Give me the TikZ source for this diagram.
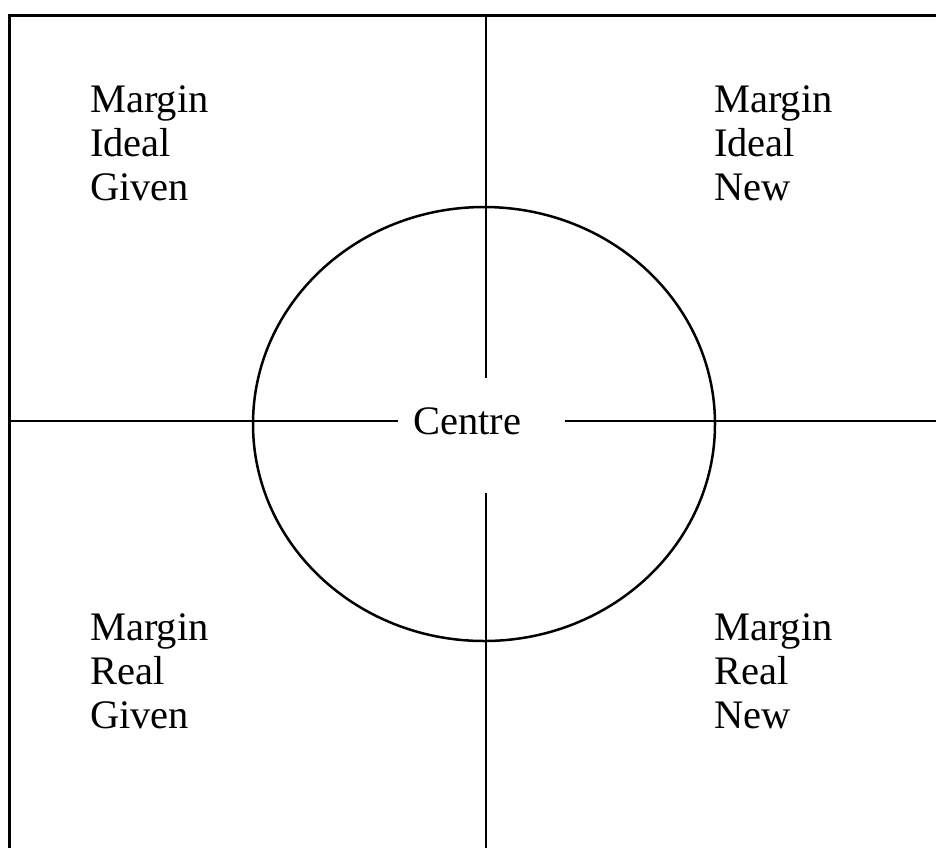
\documentclass[tikz,border=0pt]{standalone}
\usepackage{fontspec}
\setmainfont{Liberation Serif}
\usetikzlibrary{positioning}

\begin{document}
\begin{tikzpicture}[
    x=1pt, y=-1pt,
    quad/.style={anchor=base west, align=left, inner sep=0pt, font=\fontsize{40.5}{44}\selectfont},
    centre/.style={inner sep=0pt, font=\fontsize{40.5}{44}\selectfont},
    axis/.style={line width=2.5pt, draw=black}
  ]
  \useasboundingbox (0,0) rectangle (936,847);
  \clip (0,0) rectangle (936,847);

  % Outer frame (runs off the page right and bottom)
  \draw[line width=3pt] (9,15) rectangle (960,870);

  % Circle
  \draw[line width=2.5pt] (484,424) ellipse [x radius=231, y radius=217];

  % Centre label
  \node[centre] (ctr) at (467,421) {Centre};

  % Axis end points
  \coordinate (top) at (486,15);
  \coordinate (bot) at (486,870);
  \coordinate (lft) at (9,421);
  \coordinate (rgt) at (960,421);
  \coordinate (ntop) at (486,378);
  \coordinate (nbot) at (486,493);
  \coordinate (nlft) at (398,421);
  \coordinate (nrgt) at (565,421);

  % Axes
  \draw[axis] (top) -- (ntop);
  \draw[axis] (nbot) -- (bot);
  \draw[axis] (lft) -- (nlft);
  \draw[axis] (nrgt) -- (rgt);

  % Quadrant labels (base = last line)
  \node[quad] (ig) at (90,200) {Margin\\Ideal\\Given};
  \node[quad] (in) at (714,200) {Margin\\Ideal\\New};
  \node[quad] (rg) at (90,728) {Margin\\Real\\Given};
  \node[quad] (rn) at (714,728) {Margin\\Real\\New};
\end{tikzpicture}
\end{document}
